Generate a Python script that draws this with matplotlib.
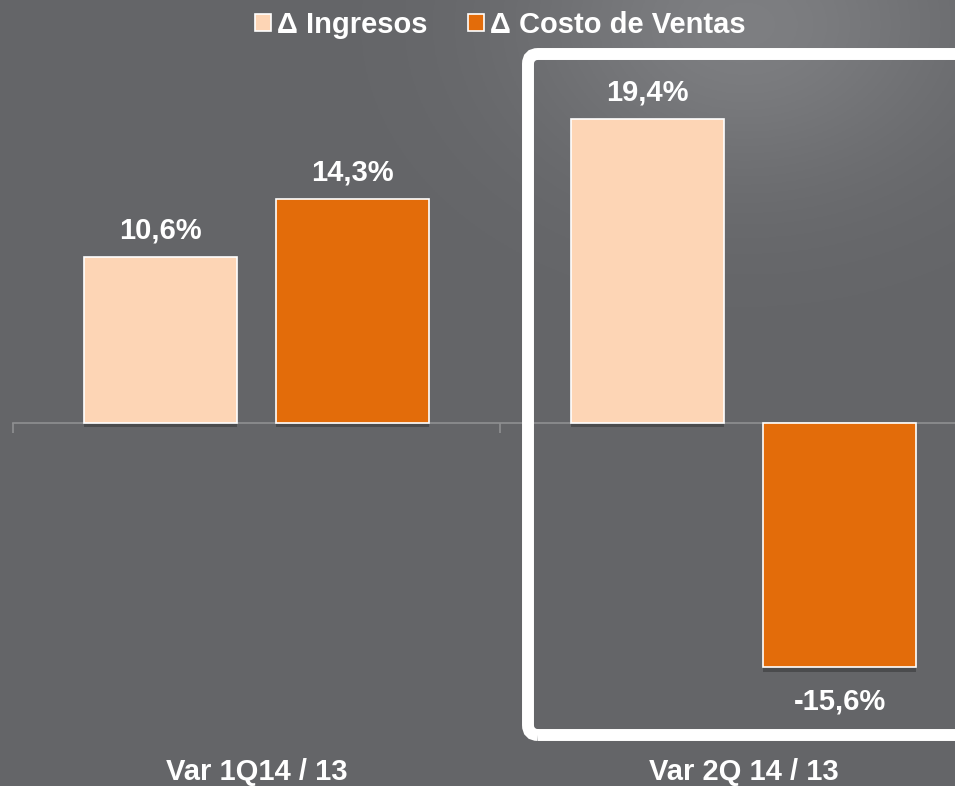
import numpy as np
import matplotlib.pyplot as plt
from matplotlib.patches import Patch, FancyBboxPatch
import matplotlib.patheffects as pe
import matplotlib.transforms as mtransforms

plt.rcParams['font.family'] = ['Liberation Sans', 'DejaVu Sans']
plt.rcParams['font.weight'] = 'bold'

# ---------- data
categories = ["Var 1Q14 / 13", "Var 2Q 14 / 13"]
series_names = ["\u0394 Ingresos", "\u0394 Costo de Ventas"]
ingresos = [10.6, 19.4]
costo_ventas = [14.3, -15.6]
value_labels = [["10,6%", "19,4%"], ["14,3%", "-15,6%"]]

light_orange = "#FDD5B5"
dark_orange = "#E36C0A"
text_color = "white"

fig = plt.figure(figsize=(9.55, 7.86), dpi=100)

# ---------- background with soft highlight at the top right
bg = fig.add_axes([0, 0, 1, 1], zorder=-5)
bg.set_axis_off()
gx, gy = np.meshgrid(np.linspace(0, 1, 400), np.linspace(0, 1, 330))
glow = np.exp(-((gx - 0.78) ** 2 / 0.05 + (gy - 0.03) ** 2 / 0.04))
base = np.array([100, 101, 104]) / 255.0
img = base[None, None, :] + (0.10 * glow)[:, :, None]
bg.imshow(np.clip(img, 0, 1), aspect='auto', extent=[0, 1, 0, 1], origin='upper')

# ---------- main axes
ax = fig.add_axes([13 / 955, 46 / 786, 974 / 955, 690 / 786])
ax.set_facecolor('none')
ax.set_xlim(-0.5, 1.5)
ax.set_ylim(-20.24, 23.82)

x = np.arange(len(categories))
offset = 0.198
width = 0.314
shadow = [pe.SimplePatchShadow(offset=(0, -3), shadow_rgbFace='black', alpha=0.25), pe.Normal()]

b1 = ax.bar(x - offset, ingresos, width, color=light_orange, edgecolor='white', linewidth=1.2, zorder=3)
b2 = ax.bar(x + offset, costo_ventas, width, color=dark_orange, edgecolor='white', linewidth=1.2, zorder=3)
for bars in (b1, b2):
    for b in bars:
        b.set_path_effects(shadow)

for bars, labels in zip((b1, b2), value_labels):
    for b, lab in zip(bars, labels):
        h = b.get_height()
        dy = 27 if h >= 0 else -34
        ax.annotate(lab, (b.get_x() + b.get_width() / 2, h), xytext=(0, dy),
                    textcoords='offset pixels', ha='center', va='center',
                    fontsize=21, fontweight='bold', color=text_color)

# zero line with category boundary ticks
for s in ['left', 'right', 'top']:
    ax.spines[s].set_visible(False)
ax.spines['bottom'].set_position(('data', 0))
ax.spines['bottom'].set_color('#8f9092')
ax.spines['bottom'].set_linewidth(1.2)
ax.set_xticks([-0.5, 0.5, 1.5])
ax.set_xticklabels([])
ax.tick_params(axis='x', length=7, width=1.2, color='#8f9092', direction='out')
ax.set_yticks([])

# category labels below
trans = mtransforms.blended_transform_factory(ax.transData, fig.transFigure)
for xi, cat in zip(x, categories):
    ax.text(xi, 1 - 772 / 786, cat, transform=trans, ha='center', va='center',
            fontsize=21, fontweight='bold', color=text_color)

# legend
handles = [Patch(facecolor=light_orange, edgecolor='white', linewidth=1.2),
           Patch(facecolor=dark_orange, edgecolor='white', linewidth=1.2)]
fig.legend(handles, series_names, loc='center', bbox_to_anchor=(500 / 955, 1 - 25 / 786),
           ncol=2, frameon=False, labelcolor=text_color,
           handlelength=0.55, handleheight=0.55, handletextpad=0.2, columnspacing=1.4,
           prop={'weight': 'bold', 'size': 21})

# white highlight box around second period (right side runs off the edge)
box = FancyBboxPatch((5.28, (786 - 735) / 100), 4.45, 6.81,
                     boxstyle="round,pad=0,rounding_size=0.1",
                     transform=fig.dpi_scale_trans, facecolor='none',
                     edgecolor='white', linewidth=8.6, zorder=10)
fig.patches.append(box)

fig.savefig("out.png", dpi=100)
